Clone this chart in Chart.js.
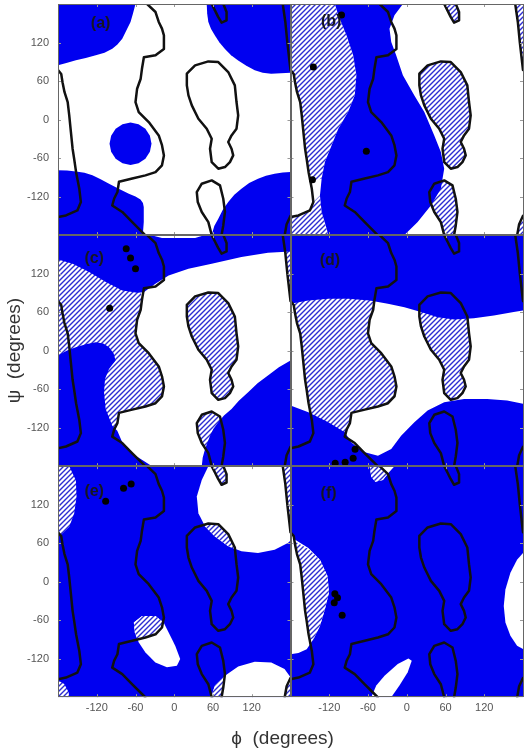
<!DOCTYPE html>
<html>
<head>
<meta charset="utf-8">
<title>Ramachandran maps (a)-(f)</title>
<script src="https://cdn.jsdelivr.net/npm/chart.js"></script>
<style>
  html, body { margin: 0; padding: 0; background: #fff; }
  #wrap { width: 527px; height: 752px; }
</style>
</head>
<body>
<div id="wrap"><canvas id="rama" width="527" height="752"></canvas></div>
<script>
// tick values for phi and psi (degrees)
const phiTicks = [-120, -60, 0, 60, 120];
const psiTicks = [-120, -60, 0, 60, 120];

// allowed-region contour, same in every panel  [phi, psi]
const contourA = [[-42,180],[-29,167.5],[-24,152],[-19,141.6],[-16,131],[-16,110],[-29,100],[-47,97],[-50,79],[-52,63.6],[-57.5,48],[-60,27],[-55,11.7],[-39.5,-4],[-24,-24.7],[-19,-40],[-16,-56],[-19,-71.4],[-29,-82],[-44.6,-87],[-65,-92],[-85.6,-97],[-88,-113],[-93,-123],[-96,-134],[-80.5,-144],[-65,-160],[-50,-175],[-45,-180]];
const contourBTop = [[168,180],[172,152],[175,121],[180,77]];
const contourBMain = [[-180,77],[-175,71],[-173,58],[-170,43],[-165,27],[-162.6,6.5],[-160,-19.5],[-157.4,-45.5],[-155,-61],[-152,-82],[-147,-108],[-144.6,-128.6],[-150,-141.6],[-167.7,-149.4],[-180,-152]];
const contourBBottom = [[180,-150],[174,-163],[171,-180]];
const contourC = [[19.5,71.4],[32.3,84.4],[52.8,90.6],[68.2,89.6],[83.6,74],[93.8,53.2],[96.4,27.3],[99,6.5],[96.4,-14.3],[88.7,-24.7],[83.6,-35],[88.7,-45.5],[91.3,-55.9],[86.2,-66.3],[78.5,-74],[68.2,-76.6],[58,-66.3],[55.4,-45.5],[58,-29.9],[50.3,-14.3],[37.4,1.3],[27.2,22],[22,37.6],[19.5,53.2]];
const contourD = [[58,-180],[52.8,-159.8],[42.6,-144],[36.4,-128.6],[34.9,-113],[42.6,-100],[58,-94.8],[70.8,-102.6],[75.9,-123.4],[78.5,-144],[75.9,-165],[73.3,-180]];
const contourD2 = [[58,180],[63,170],[68,160],[73.3,151],[81,154.5],[81,167.5],[76,180]];

// shared shaded pieces
const fullPanel = [[-180,-180],[180,-180],[180,180],[-180,180]];
const hatchTopRight = [[168,180],[172,152],[175,121],[180,77],[180,180]];
const hatchBottomRight = [[171,-180],[174,-163],[180,-150],[180,-180]];

// panel (a)
const aBlueTopLeft = [[-180,180],[-60,180],[-64,165],[-67.7,152],[-74,139],[-80.5,126],[-88,117],[-95.9,110.4],[-108,104],[-121.5,100],[-137,96],[-152.3,92.2],[-167,88],[-180,84.4]];
const aBlueTopRight = [[50.3,180],[51,165],[52.8,152],[57,141],[63,131],[70,120],[78.5,110],[88,100],[99,92],[111,84],[124.6,76.6],[137,73],[150,71.4],[165,72],[180,73],[180,180]];
const aBlueCircle = [[-35.2,-37.7],[-37.7,-25.1],[-44.7,-14.4],[-55.3,-7.2],[-67.7,-4.7],[-80.1,-7.2],[-90.7,-14.4],[-97.7,-25.1],[-100.2,-37.7],[-97.7,-50.3],[-90.7,-61],[-80.1,-68.2],[-67.7,-70.7],[-55.3,-68.2],[-44.7,-61],[-37.7,-50.3]];
const aBlueBottomLeft = [[-180,-79.2],[-166,-79.5],[-152.3,-80.8],[-139,-83],[-126.7,-87],[-114,-93],[-101,-100],[-86,-108],[-70.3,-115.6],[-60,-120],[-52.3,-124.4],[-48.5,-130],[-47.2,-136.4],[-47.2,-159.8],[-48.7,-180],[-180,-180]];
const aBlueBottomRight = [[58,-180],[62,-166],[68.2,-154.6],[75,-141],[83.6,-128.6],[93,-117],[104,-107.8],[116,-99],[129.7,-92.2],[142,-87.5],[155.4,-84.4],[168,-82.5],[180,-81.8],[180,-180]];

// panel (b)
const bHatchLeft = [[-180,180],[-111.3,180],[-106,162.3],[-93.3,131.2],[-83,100],[-78,68.8],[-80.5,37.6],[-90.8,11.7],[-106,-14.3],[-116.4,-40.3],[-126.7,-66.2],[-131.8,-92.2],[-144.6,-94.8],[-152,-82],[-155,-61],[-157.4,-45.5],[-160,-19.5],[-162.6,6.5],[-165,27],[-170,43],[-173,58],[-175,71],[-180,77]];
const bHatchBottomLeft = [[-180,-152],[-167.7,-149.4],[-150,-141.6],[-144.6,-128.6],[-134.4,-118.2],[-131.8,-144.2],[-124,-170.1],[-121.5,-180],[-180,-180]];
const bBlueBand = [[-111.3,180],[-106,162.3],[-93.3,131.2],[-83,100],[-78,68.8],[-80.5,37.6],[-90.8,11.7],[-106,-14.3],[-116.4,-40.3],[-126.7,-66.2],[-131.8,-92.2],[-134.4,-118.2],[-131.8,-144.2],[-124,-170.1],[-121.5,-180],[-3.6,-180],[16.9,-159.8],[37.4,-133.8],[52.8,-107.8],[58,-76.6],[52.8,-50.7],[42.6,-24.7],[27.2,11.7],[11.8,37.6],[-6,68.8],[-16.4,100],[-24,120.8],[-26.7,141.6],[-19,162.3],[-6,180]];
const bDots = [[-101,163],[-144.6,81.8],[-62.6,-49.6],[-146,-93.8]];

// panel (c)
const cBlueTop = [[-180,180],[-36.9,180],[-19,175.3],[32.3,175.3],[47.7,180],[180,180],[180,154.5],[145.1,152.4],[104,145.7],[58,135.3],[22,127.5],[-8.7,117],[-29.2,104],[-47.2,91],[-57.4,90],[-80.5,93.7],[-106,106.7],[-131.8,122.3],[-157.4,135.3],[-180,142]];
const cHatchMain = [[-180,150],[-60,150],[-50,79],[-52,63.6],[-57.5,48],[-60,27],[-55,11.7],[-39.5,-4],[-24,-24.7],[-19,-40],[-16,-56],[-19,-71.4],[-29,-82],[-44.6,-87],[-65,-92],[-85.6,-97],[-88,-113],[-93,-123],[-100,-125],[-180,-125]];
const cBlueLeft = [[-180,-7.7],[-166,0],[-152.3,5.3],[-137,10],[-121.5,13.1],[-110,11],[-101,5.3],[-94,-4],[-90.8,-15.5],[-96,-22],[-101,-28.5],[-107.2,-44.1],[-108.7,-64.9],[-106.2,-90.9],[-95.9,-116.9],[-88.2,-124.7],[-80.5,-142.9],[-70,-155],[-60,-163.7],[-47,-172],[-34.4,-180],[-180,-180]];
const cBlueRight = [[180,-15.5],[162,-26],[145.1,-38.9],[129,-51],[114.4,-64.9],[100,-78],[88.7,-90.9],[77,-101],[68.2,-111.7],[60.5,-122],[55.4,-132.5],[47.7,-153.3],[44,-167],[42.6,-180],[180,-180]];
const cDots = [[-74.4,158.7],[-67.7,144.1],[-60,127.5],[-100,66.1]];

// panel (d)
const dBlueTop = [[-180,180],[180,180],[180,62.5],[165.6,60],[134.9,54.7],[104,50.5],[73.3,48.4],[47.7,52],[22,60],[-3.6,67.7],[-29.2,72.9],[-57.4,78],[-90.8,80.7],[-121.5,80.7],[-152.3,78],[-180,72.9]];
const dBlueBottom = [[-180,-85.7],[-152.3,-96],[-121.5,-111.7],[-95.9,-127.3],[-85.6,-143],[-75,-152],[-65,-158.5],[-44.6,-163.7],[-24,-153.3],[-8.7,-132.5],[11.8,-111.7],[32.3,-93.5],[58,-80.5],[88.7,-75.3],[124.6,-75.3],[155.4,-77.9],[180,-83],[180,-180],[-180,-180]];
const dHatchMain = [[-175,90],[-50,90],[-50,79],[-52,63.6],[-57.5,48],[-60,27],[-55,11.7],[-39.5,-4],[-24,-24.7],[-19,-40],[-16,-56],[-19,-71.4],[-29,-82],[-44.6,-87],[-65,-92],[-85.6,-97],[-88,-113],[-93,-123],[-96,-134],[-150,-134],[-152,-82],[-155,-61],[-157.4,-45.5],[-160,-19.5],[-162.6,6.5],[-165,27],[-170,43],[-173,58],[-175,71]];
const dDots = [[-80,-153.8],[-83,-167.9],[-95.4,-174],[-110.8,-175.7]];

// panel (e)
const eWhiteTopRight = [[52.8,180],[42.6,158.3],[34.9,132.5],[37.4,106.7],[47.7,86],[63,70.5],[83.6,55],[104,47.3],[129.7,44.7],[155.4,49.8],[175.9,60.2],[180,64.3],[180,180]];
const eWhiteMid = [[-62.6,-63.8],[-49.7,-53.5],[-29.2,-53.5],[-16.4,-63.8],[-8.7,-79.3],[1.5,-100],[9.2,-120.6],[4.1,-131],[-11.3,-133.5],[-29.2,-125.8],[-44.6,-110.3],[-54.9,-94.8],[-61,-79.3]];
const eWhiteBottomRight = [[56.9,-180],[63,-161.9],[78.5,-146.4],[99,-132],[124.6,-124.7],[150.2,-125.8],[170.8,-136.1],[180,-149],[180,-180]];
const eHatchTopLeft = [[-180,180],[-162.6,180],[-152.3,157.8],[-151.3,132],[-155,106.2],[-162.6,85.6],[-175.4,73.1],[-180,70.5]];
const eHatchBottomLeft = [[-180,-154],[-170.3,-159.4],[-163.6,-172.3],[-162.6,-180],[-180,-180]];
const eHatchAlphaL = [[45,88],[52.8,90.6],[68.2,89.6],[83.6,74],[93.8,53.2],[94,51],[83.6,55],[63,70.5],[47.7,86]];
const eHatchMid = [[-62.6,-63.8],[-49.7,-53.5],[-29.2,-53.5],[-16.4,-63.8],[-17.5,-69],[-19,-71.4],[-29,-82],[-44.6,-87],[-57,-90],[-61,-79.3]];
const eHatchD = [[56.9,-180],[63,-161.9],[78.3,-146.5],[78.2,-150],[75.9,-165],[73.3,-180]];
const eDots = [[-106.2,125.2],[-78.5,145.4],[-66.7,152.1]];

// panel (f)
const fWhiteLeft = [[-180,80.8],[-172.8,65.3],[-152.3,52.4],[-134.4,34.3],[-122.6,8.5],[-120.5,-17.3],[-126.7,-43.1],[-134.4,-69],[-144.6,-89.6],[-154.9,-105.1],[-167.7,-111.3],[-180,-112.9]];
const fHatchLeft = [[-173.8,62.8],[-152.3,50.9],[-134.4,34.3],[-122.6,8.5],[-120.5,-17.3],[-126.7,-43.1],[-134.4,-69],[-143.1,-87],[-151.3,-92.2],[-152,-82],[-155,-61],[-157.4,-45.5],[-160,-19.5],[-162.6,6.5],[-165,27],[-170,43],[-173,58]];
const fWhiteRight = [[180,44.7],[170.8,34.3],[160.5,13.7],[152.8,-12.1],[150.2,-38],[152.8,-63.8],[160.5,-84.4],[170.8,-100],[180,-105]];
const fWhiteBottom = [[-54.9,-180],[-47.2,-161.9],[-34.4,-146.4],[-13.9,-128.4],[2.6,-119.6],[7.7,-123.2],[1.5,-141.3],[-11.3,-161.9],[-24,-180]];
const fWhiteTop = [[-57.4,180],[-54.9,163.5],[-48.7,155.7],[-36.9,158.3],[-29.2,168.6],[-19,180]];
const fHatchTop = [[-57.4,180],[-54.9,163.5],[-48.7,155.7],[-36.9,158.3],[-29.5,167.7],[-42,180]];
const fDots = [[-111.3,-18.9],[-107.2,-25],[-112.3,-32.8],[-100,-52.4]];

const BLUE = '#0000f0';
const HATCH_LINE = '#2d2dd2';
const FONT = 'Liberation Sans, Arial, Helvetica, sans-serif';

// one panel per (x scale, y scale) pair; layers listed bottom -> top
const panels = [
  { label: '(a)', x: 'x0', y: 'y0', labelAt: [-114, 149], dots: [],
    layers: [['blue', aBlueTopLeft], ['blue', aBlueTopRight], ['blue', aBlueCircle], ['blue', aBlueBottomLeft], ['blue', aBlueBottomRight]] },
  { label: '(b)', x: 'x1', y: 'y0', labelAt: [-117, 152], dots: bDots,
    layers: [['hatch', bHatchLeft], ['hatch', bHatchBottomLeft], ['hatch', hatchTopRight], ['hatch', hatchBottomRight],
             ['hatch', contourC], ['hatch', contourD], ['hatch', contourD2], ['blue', bBlueBand]] },
  { label: '(c)', x: 'x0', y: 'y1', labelAt: [-124, 143], dots: cDots,
    layers: [['hatch', cHatchMain], ['hatch', contourC], ['hatch', contourD], ['hatch', hatchTopRight],
             ['blue', cBlueTop], ['blue', cBlueLeft], ['blue', cBlueRight]] },
  { label: '(d)', x: 'x1', y: 'y1', labelAt: [-119, 140], dots: dDots,
    layers: [['hatch', dHatchMain], ['hatch', contourC], ['blue', dBlueTop], ['blue', dBlueBottom]] },
  { label: '(e)', x: 'x0', y: 'y2', labelAt: [-124, 140], dots: eDots,
    layers: [['blue', fullPanel], ['white', eWhiteTopRight], ['white', eWhiteMid], ['white', eWhiteBottomRight],
             ['hatch', eHatchTopLeft], ['hatch', eHatchBottomLeft], ['hatch', eHatchAlphaL], ['hatch', eHatchMid],
             ['hatch', eHatchD], ['hatch', hatchTopRight], ['hatch', contourD2], ['hatch', hatchBottomRight]] },
  { label: '(f)', x: 'x1', y: 'y2', labelAt: [-121, 137], dots: fDots,
    layers: [['blue', fullPanel], ['white', fWhiteLeft], ['white', fWhiteRight], ['white', fWhiteBottom], ['white', fWhiteTop],
             ['hatch', fHatchLeft], ['hatch', fHatchTop]] }
];

const contours = [contourA, contourBTop, contourBMain, contourBBottom, contourC.concat([contourC[0]]), contourD, contourD2];

// diagonal hatch pattern
function makeHatch() {
  const s = 5;
  const c = document.createElement('canvas');
  c.width = s; c.height = s;
  const g = c.getContext('2d');
  g.fillStyle = '#ffffff';
  g.fillRect(0, 0, s, s);
  g.strokeStyle = HATCH_LINE;
  g.lineWidth = 1.4;
  g.beginPath();
  g.moveTo(0, s); g.lineTo(s, 0);
  g.moveTo(-1, 1); g.lineTo(1, -1);
  g.moveTo(s - 1, s + 1); g.lineTo(s + 1, s - 1);
  g.stroke();
  return g.createPattern(c, 'repeat');
}
const hatch = makeHatch();
const fills = { blue: BLUE, white: '#ffffff', hatch: hatch };

const toXY = pts => pts.map(([x, y]) => ({ x, y }));

const datasets = [];
panels.forEach(p => {
  p.layers.forEach(([kind, poly], i) => {
    datasets.push({
      data: toXY(poly), xAxisID: p.x, yAxisID: p.y,
      showLine: true, fill: 'shape', tension: 0,
      backgroundColor: fills[kind], borderWidth: 0,
      pointRadius: 0, order: 100 - i
    });
  });
  contours.forEach(line => {
    datasets.push({
      data: toXY(line), xAxisID: p.x, yAxisID: p.y,
      showLine: true, fill: false, tension: 0,
      borderColor: '#111', borderWidth: 2.5, borderJoinStyle: 'round', borderCapStyle: 'round',
      pointRadius: 0, order: 5
    });
  });
  if (p.dots.length) {
    datasets.push({
      data: toXY(p.dots), xAxisID: p.x, yAxisID: p.y,
      showLine: false, pointRadius: 3.5, pointBackgroundColor: '#000', pointBorderWidth: 0, order: 0
    });
  }
});

function xAxis(weight) {
  return {
    type: 'linear', position: 'bottom', stack: 'cols', weight: weight,
    min: -180, max: 180,
    grid: { display: false, drawTicks: false }, border: { display: false },
    ticks: { font: { family: FONT, size: 11 }, color: '#555', padding: 4, maxRotation: 0, autoSkip: false },
    afterBuildTicks: s => { s.ticks = phiTicks.map(v => ({ value: v })); },
    afterFit: s => { s.height = 21; s.paddingLeft = 0; s.paddingRight = 0; }
  };
}
function yAxis(weight, withTitle) {
  return {
    type: 'linear', position: 'left', stack: 'rows', weight: weight,
    min: -180, max: 180,
    grid: { display: false, drawTicks: false }, border: { display: false },
    ticks: { font: { family: FONT, size: 11 }, color: '#555', padding: 9 },
    title: { display: withTitle, text: 'ψ  (degrees)', color: '#333', font: { family: FONT, size: 19 }, padding: { top: 3, bottom: 0 } },
    afterBuildTicks: s => { s.ticks = psiTicks.map(v => ({ value: v })); },
    afterFit: s => { s.width = 58; s.paddingTop = 0; s.paddingBottom = 0; }
  };
}

// frames, inner tick marks and panel letters
const panelDecor = {
  id: 'panelDecor',
  afterDatasetsDraw(chart) {
    const g = chart.ctx;
    panels.forEach(p => {
      const xs = chart.scales[p.x], ys = chart.scales[p.y];
      const l = xs.left, r = xs.right, t = ys.top, b = ys.bottom;
      g.save();
      g.strokeStyle = '#9a9a9a';
      g.lineWidth = 1;
      g.beginPath();
      phiTicks.forEach(v => {
        const px = Math.round(xs.getPixelForValue(v)) + 0.5;
        g.moveTo(px, b); g.lineTo(px, b - 3);
        g.moveTo(px, t); g.lineTo(px, t + 3);
      });
      psiTicks.forEach(v => {
        const py = Math.round(ys.getPixelForValue(v)) + 0.5;
        g.moveTo(l, py); g.lineTo(l + 3, py);
        g.moveTo(r, py); g.lineTo(r - 3, py);
      });
      g.stroke();
      g.strokeStyle = '#666';
      g.strokeRect(Math.round(l) + 0.5, Math.round(t) + 0.5, Math.round(r - l) - 1, Math.round(b - t) - 1);
      g.fillStyle = '#161620';
      g.font = '600 16px ' + FONT;
      g.textAlign = 'center';
      g.textBaseline = 'middle';
      g.fillText(p.label, xs.getPixelForValue(p.labelAt[0]), ys.getPixelForValue(p.labelAt[1]));
      g.restore();
    });
  }
};

new Chart(document.getElementById('rama').getContext('2d'), {
  type: 'scatter',
  data: { datasets: datasets },
  options: {
    responsive: false,
    animation: false,
    events: [],
    layout: { padding: { left: 0, right: 1, top: 2, bottom: 0 } },
    scales: {
      x0: xAxis(0),
      x1: xAxis(1),
      y0: yAxis(3, false),
      y1: yAxis(2, true),
      y2: yAxis(1, false)
    },
    plugins: {
      legend: { display: false },
      tooltip: { enabled: false },
      title: {
        display: true, position: 'bottom', fullSize: false,
        text: 'ϕ  (degrees)   ', color: '#333',
        font: { family: FONT, size: 19, weight: 'normal' },
        padding: { top: 9, bottom: 2 }
      }
    }
  },
  plugins: [panelDecor]
});
</script>
</body>
</html>
